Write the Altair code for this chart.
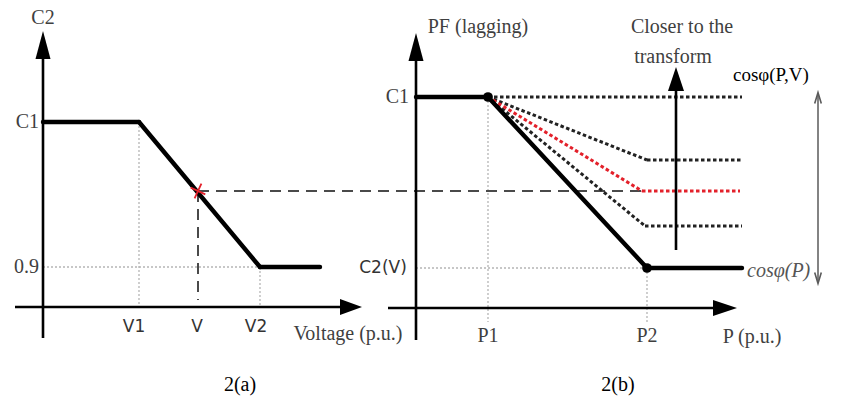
import altair as alt
import pandas as pd

W, H = 861, 405

# ---- diagram geometry (layout units, y grows downward) ----
# Panel (a): C2 droop against voltage
volt_labels = ["V1", "V", "V2"]
volt_label_x = [134, 197, 256]
volt_x = [139, 198, 260]
c2_curve_x = [43, 139, 260, 320]
c2_curve_y = [122, 122, 267, 267]
op_x, op_y = 198, 191          # operating point picked on the droop

# Panel (b): power factor against active power
p_labels = ["P1", "P2"]
p_x = [488, 647]
pf_curve_x = [416, 488, 647, 742]
pf_curve_y = [97, 97, 268, 268]
family_knee_x = [742, 647, 645]   # black dotted family of curves
family_level_y = [97, 160, 226]
red_knee_x, red_level_y = 642, 191
family_end_x = 742

XS = alt.Scale(domain=[0, W], nice=False, zero=False)
YS = alt.Scale(domain=[0, H], nice=False, zero=False, reverse=True)


def polyline(xs, ys):
    return [(xs[i], ys[i], xs[i + 1], ys[i + 1]) for i in range(len(xs) - 1)]


def seg_layer(segs, **mark):
    df = pd.DataFrame(segs, columns=["x", "y", "x2", "y2"])
    return alt.Chart(df).mark_rule(**mark).encode(
        x=alt.X("x:Q", scale=XS, axis=None),
        y=alt.Y("y:Q", scale=YS, axis=None),
        x2="x2:Q",
        y2="y2:Q",
    )


def text_layer(rows, **mark):
    df = pd.DataFrame(rows, columns=["x", "y", "label"])
    return alt.Chart(df).mark_text(**mark).encode(
        x=alt.X("x:Q", scale=XS, axis=None),
        y=alt.Y("y:Q", scale=YS, axis=None),
        text="label:N",
    )


def arrow_path(length, width):
    a = width / length
    return f"M{-a:.3f},1L0,-1L{a:.3f},1Z"


# axes
axes = seg_layer(
    [(43, 58, 43, 338), (15, 307, 345, 307),
     (416, 60, 416, 340), (388, 308, 716, 308)],
    color="black", strokeWidth=2.6)

# faint dotted guides
guides = seg_layer(
    [(volt_x[0], c2_curve_y[0], volt_x[0], 307),
     (volt_x[2], c2_curve_y[2], volt_x[2], 307),
     (43, c2_curve_y[2], volt_x[2], c2_curve_y[2]),
     (p_x[0], pf_curve_y[0], p_x[0], 322),
     (p_x[1], pf_curve_y[2], p_x[1], 322),
     (416, pf_curve_y[2], p_x[1], pf_curve_y[2])],
    color="#b5b5b5", strokeWidth=1.3, strokeDash=[2, 2])

# dashed projection of the operating point
proj = seg_layer(
    [(op_x, op_y, op_x, 300), (op_x, op_y, red_knee_x, op_y)],
    color="#4a4a4a", strokeWidth=2, strokeDash=[11, 7])

# black dotted family
fam = []
for kx, ly in zip(family_knee_x, family_level_y):
    fam += polyline([p_x[0], kx, family_end_x], [pf_curve_y[0], ly, ly])
family = seg_layer(fam, color="#222", strokeWidth=3, strokeDash=[3.5, 2.5])

red = seg_layer(
    polyline([p_x[0], red_knee_x, family_end_x - 2],
             [pf_curve_y[0], red_level_y, red_level_y]),
    color="#e3212b", strokeWidth=3, strokeDash=[3.5, 2.5])

# thick characteristic curves
curves = seg_layer(
    polyline(c2_curve_x, c2_curve_y) + polyline(pf_curve_x, pf_curve_y),
    color="black", strokeWidth=4.4, strokeCap="round")

# "closer to the transformer" shaft and the range double arrow
shaft = seg_layer([(676, 88, 676, 250)], color="black", strokeWidth=2.6)
span = seg_layer([(818, 93, 818, 283)], color="#5a5a5a", strokeWidth=1.5)

# filled arrow heads
heads = pd.DataFrame({
    "x": [43, 351, 416, 725, 676],
    "y": [45, 307, 47, 308, 79],
    "shape": [arrow_path(28, 15), arrow_path(22, 16), arrow_path(28, 15),
              arrow_path(24, 16), arrow_path(24, 16)],
    "size": [28 ** 2, 22 ** 2, 28 ** 2, 24 ** 2, 24 ** 2],
    "angle": [0, 90, 0, 90, 0],
})
head_layer = alt.Chart(heads).mark_point(
    filled=True, color="black", opacity=1, strokeWidth=0).encode(
    x=alt.X("x:Q", scale=XS, axis=None),
    y=alt.Y("y:Q", scale=YS, axis=None),
    shape=alt.Shape("shape:N", scale=None, legend=None),
    size=alt.Size("size:Q", scale=None, legend=None),
    angle=alt.Angle("angle:Q", scale=None),
)

# open chevrons of the double arrow
chev = pd.DataFrame({"x": [818, 818], "y": [98, 278], "angle": [0, 180]})
chev_layer = alt.Chart(chev).mark_point(
    shape="M-0.6,1L0,-1L0.6,1", size=121, filled=False,
    color="#5a5a5a", strokeWidth=1.6, opacity=1).encode(
    x=alt.X("x:Q", scale=XS, axis=None),
    y=alt.Y("y:Q", scale=YS, axis=None),
    angle=alt.Angle("angle:Q", scale=None),
)

# knee dots on the PF curve
dots = pd.DataFrame({"x": [pf_curve_x[1], pf_curve_x[2]],
                     "y": [pf_curve_y[1], pf_curve_y[2]]})
dot_layer = alt.Chart(dots).mark_circle(size=95, color="black", opacity=1).encode(
    x=alt.X("x:Q", scale=XS, axis=None),
    y=alt.Y("y:Q", scale=YS, axis=None),
)

# red marker at the operating point
star = alt.Chart(pd.DataFrame({"x": [op_x], "y": [op_y]})).mark_point(
    shape="M-1,0L1,0M0,-1L0,1", size=260, angle=25, filled=False,
    color="#e3212b", strokeWidth=1.8, opacity=1).encode(
    x=alt.X("x:Q", scale=XS, axis=None),
    y=alt.Y("y:Q", scale=YS, axis=None),
)

SERIF = "Liberation Serif"
GREY = "#3f3f3f"

serif_c = text_layer(
    [(43, 18, "C2"), (348, 334, "Voltage (p.u.)"), (478, 27, "PF (lagging)"),
     (682, 27, "Closer to the"), (673, 57, "transform"),
     (p_x[0], 336, p_labels[0]), (p_x[1], 336, p_labels[1]),
     (752, 337, "P (p.u.)")],
    font=SERIF, fontSize=20, color=GREY, baseline="middle", align="center")

serif_r = text_layer(
    [(39, c2_curve_y[0], "C1"), (39, c2_curve_y[2], "0.9"),
     (409, pf_curve_y[0], "C1")],
    font=SERIF, fontSize=20, color=GREY, baseline="middle", align="right")

captions = text_layer(
    [(240, 385, "2(a)"), (618, 385, "2(b)")],
    font=SERIF, fontSize=20, color="black", baseline="middle", align="center")

cos_pv = text_layer(
    [(733, 75, "cosφ(P,V)")],
    font=SERIF, fontSize=19, color="black", baseline="middle", align="left")

cos_p = text_layer(
    [(747, 271, "cosφ(P)")],
    font=SERIF, fontSize=20, fontStyle="italic", color="#555",
    baseline="middle", align="left")

sans = text_layer(
    [(x, 327, t) for x, t in zip(volt_label_x, volt_labels)] +
    [(383, pf_curve_y[2], "C2(V)")],
    font="DejaVu Sans", fontSize=17, color="#333",
    baseline="middle", align="center")

chart = alt.layer(
    guides, proj, family, red, axes, curves, shaft, span,
    head_layer, chev_layer, dot_layer, star,
    serif_c, serif_r, captions, cos_pv, cos_p, sans,
).properties(
    width=W, height=H, padding=0,
    autosize=alt.AutoSizeParams(type="none"),
    background="white",
).configure_view(stroke=None)

chart.save("out.html", embed_options={"renderer": "svg", "actions": False})
